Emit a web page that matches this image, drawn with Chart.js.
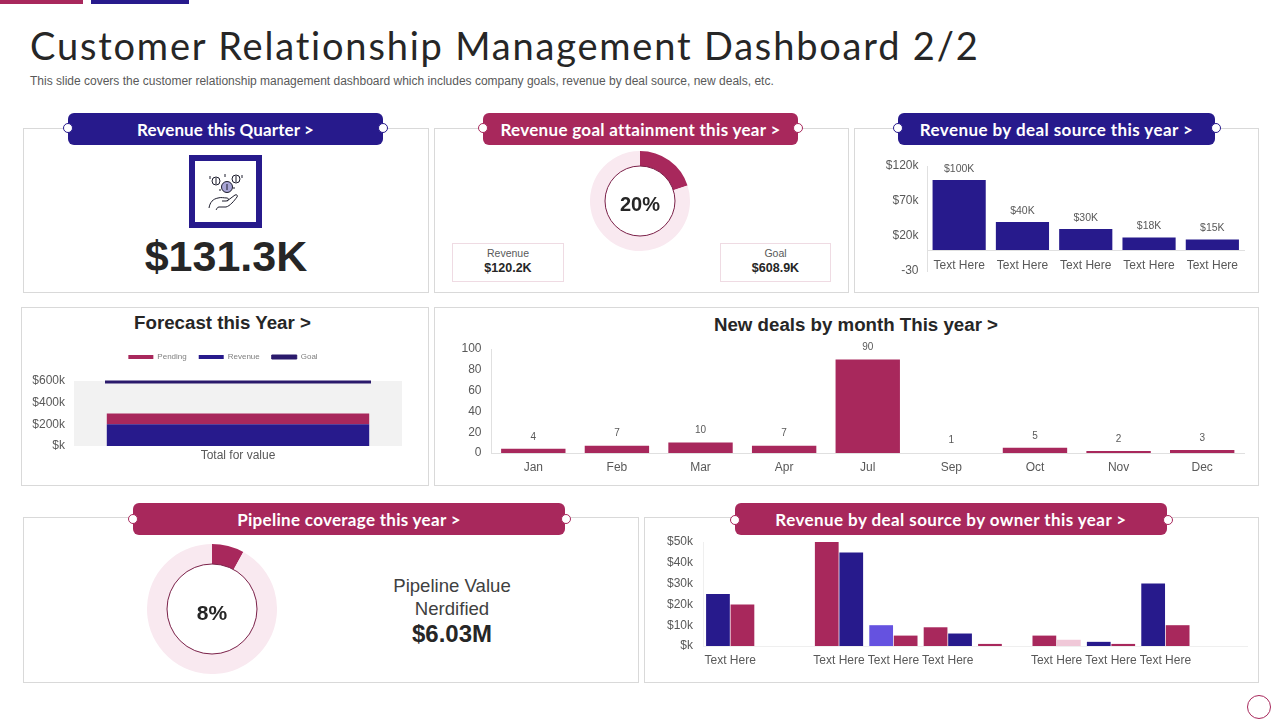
<!DOCTYPE html>
<html>
<head>
<meta charset="utf-8">
<title>Customer Relationship Management Dashboard 2/2</title>
<script src="https://cdn.jsdelivr.net/npm/chart.js@4/dist/chart.umd.min.js"></script>
<style>
  html, body { margin: 0; padding: 0; background: #fff; }
  #page { position: relative; width: 1280px; height: 720px; overflow: hidden; font-family: "Liberation Sans", Arial, sans-serif; color: #262626; }
  #page > * { position: absolute; box-sizing: border-box; }
  .strip { top: 0; height: 4px; }
  h1 { margin: 0; left: 30px; top: 21px; font: 400 38px/48px Lato, sans-serif; letter-spacing: 1.81px; white-space: nowrap; }
  .sub { left: 30px; top: 74px; font-size: 12px; line-height: 15px; color: #595959; white-space: nowrap; }
  .panel { border: 1px solid #d9d9d9; }
  .head { height: 32px; border-radius: 6px; color: #fff; font: 700 17px/34px Lato, sans-serif; text-align: center; letter-spacing: .3px; white-space: nowrap; }
  .navy { background: #271a8c; }
  .crim { background: #a8285c; }
  .dot { width: 10px; height: 10px; border-radius: 50%; background: #fff; border: 1px solid #271a8c; }
  .dot.c { border-color: #a8285c; }
  .ctr { text-align: center; white-space: nowrap; }
  .box { border: 1px solid #efdbe3; text-align: center; }
  .box div { font-size: 10.5px; line-height: 13px; color: #595959; margin-top: 3px; }
  .box b { display: block; font-size: 12.5px; line-height: 16px; color: #262626; }
  canvas { display: block; }
</style>
</head>
<body>
<div id="page">
  <div class="strip" style="left:0;width:83px;background:#a8285c"></div>
  <div class="strip" style="left:91px;width:98px;background:#271a8c"></div>
  <h1>Customer Relationship Management Dashboard 2/2</h1>
  <div class="sub">This slide covers the customer relationship management dashboard which includes company goals, revenue by deal source, new deals, etc.</div>

  <div class="panel" style="left:23px;top:128px;width:406px;height:165px"></div>
  <div class="panel" style="left:434px;top:128px;width:415px;height:165px"></div>
  <div class="panel" style="left:854px;top:128px;width:405px;height:165px"></div>
  <div class="panel" style="left:21px;top:307px;width:408px;height:179px"></div>
  <div class="panel" style="left:434px;top:307px;width:825px;height:179px"></div>
  <div class="panel" style="left:23px;top:517px;width:616px;height:166px"></div>
  <div class="panel" style="left:644px;top:517px;width:615px;height:166px"></div>

  <div class="head navy" style="left:68px;top:113px;width:315px;letter-spacing:.1px">Revenue this Quarter &gt;</div>
  <div class="dot" style="left:63px;top:123px"></div><div class="dot" style="left:378px;top:123px"></div>
  <div class="head crim" style="left:483px;top:113px;width:315px">Revenue goal attainment this year &gt;</div>
  <div class="dot c" style="left:478px;top:123px"></div><div class="dot c" style="left:793px;top:123px"></div>
  <div class="head navy" style="left:898px;top:113px;width:317px;letter-spacing:.42px">Revenue by deal source this year &gt;</div>
  <div class="dot" style="left:893px;top:123px"></div><div class="dot" style="left:1211px;top:123px"></div>
  <div class="head crim" style="left:133px;top:503px;width:432px">Pipeline coverage this year &gt;</div>
  <div class="dot c" style="left:128px;top:514px"></div><div class="dot c" style="left:561px;top:514px"></div>
  <div class="head crim" style="left:735px;top:503px;width:432px;letter-spacing:.42px">Revenue by deal source by owner this year &gt;</div>
  <div class="dot c" style="left:730px;top:515px"></div><div class="dot c" style="left:1163px;top:515px"></div>

  <svg style="left:189px;top:155px" width="73" height="73" viewBox="0 0 73 73">
    <rect x="3" y="3" width="67" height="67" fill="#fff" stroke="#271a8c" stroke-width="6"/>
    <g fill="none" stroke="#1c1c2c" stroke-width="1">
      <circle cx="27" cy="26" r="4"/><circle cx="47" cy="24" r="4"/>
      <circle cx="38" cy="32" r="5.5" fill="#a9a6d6"/>
      <path d="M27 23v6M47 21v6M38 29v6M21 21v3M53 20v3M36 19v3M31 34v2M45 32v2"/>
      <path d="M20 53c1-6 4-9 9-10 3-1 6 0 9 0 2 0 2 3-1 3h-4m5 0 8-6c2-1 3 1 2 2-3 4-7 9-11 10h-7c-2 0-2 2-3 3"/>
    </g>
  </svg>
  <div class="ctr" style="left:76px;top:230px;width:300px;font:700 43px/52px 'Liberation Sans',sans-serif">$131.3K</div>

  <canvas id="goalRing" width="100" height="100" style="left:590px;top:151px"></canvas>
  <div class="ctr" style="left:590px;top:191px;width:100px;font-size:20px;line-height:26px;font-weight:700">20%</div>
  <div class="box" style="left:452px;top:243px;width:112px;height:39px"><div>Revenue</div><b>$120.2K</b></div>
  <div class="box" style="left:720px;top:243px;width:111px;height:39px"><div>Goal</div><b>$608.9K</b></div>

  <canvas id="sourceChart" width="400" height="135" style="left:856px;top:150px"></canvas>

  <div class="ctr" style="left:21px;top:311px;width:403px;font-size:18.7px;line-height:24px;font-weight:700">Forecast this Year &gt;</div>
  <canvas id="forecastChart" width="412" height="125" style="left:16px;top:340px"></canvas>

  <div class="ctr" style="left:434px;top:313px;width:844px;font-size:18.7px;line-height:24px;font-weight:700">New deals by month This year &gt;</div>
  <canvas id="dealsChart" width="810" height="140" style="left:440px;top:340px"></canvas>

  <canvas id="pipelineRing" width="130" height="130" style="left:147px;top:544px"></canvas>
  <div class="ctr" style="left:152px;top:599px;width:120px;font-size:21px;line-height:27px;font-weight:700">8%</div>
  <div class="ctr" style="left:332px;top:574px;width:240px;font-size:18.6px;line-height:23px;color:#404040">Pipeline Value<br>Nerdified</div>
  <div class="ctr" style="left:332px;top:619px;width:240px;font-size:24px;line-height:30px;font-weight:700">$6.03M</div>

  <canvas id="ownerChart" width="600" height="140" style="left:650px;top:530px"></canvas>

  <div style="left:1247px;top:695px;width:24px;height:24px;border:1px solid #a8285c;border-radius:50%"></div>
</div>

<script>
const NAVY = "#271a8c";
const CRIMSON = "#a8285c";
const LILAC = "#6552e0";
const PINK = "#f0c8d8";
const BLUSH = "#f9e9f0";
const GREY = "#595959";
const AXIS_LINE = "#e0e0e0";

// revenue goal + pipeline rings
const goalShare = [20, 80];
const pipelineShare = [8, 92];

// revenue by deal source
const sourceLabels = ["Text Here", "Text Here", "Text Here", "Text Here", "Text Here"];
const sourceValues = [100, 40, 30, 18, 15];

// forecast
const forecastLabels = ["Total for value"];
const forecastPending = [100];
const forecastRevenue = [200];
const forecastGoal = [590];

// new deals
const dealMonths = ["Jan", "Feb", "Mar", "Apr", "Jul", "Sep", "Oct", "Nov", "Dec"];
const dealCounts = [4, 7, 10, 7, 90, 1, 5, 2, 3];
// the Sep bar does not show in the original, only its label does
const dealColors = [CRIMSON, CRIMSON, CRIMSON, CRIMSON, CRIMSON, "transparent", CRIMSON, CRIMSON, CRIMSON];

// revenue by deal source by owner
const ownerLabels = ["Text Here", "", "Text Here", "Text Here", "Text Here", "", "Text Here", "Text Here", "Text Here", ""];
const ownerFirst = [25, null, 50, 10, 9, 1, 5, 2, 30, null];
const ownerSecond = [20, null, 45, 5, 6, null, 3, 1, 10, null];
const ownerFirstColors = [NAVY, NAVY, CRIMSON, LILAC, CRIMSON, CRIMSON, CRIMSON, NAVY, NAVY, NAVY];
const ownerSecondColors = [CRIMSON, CRIMSON, NAVY, CRIMSON, NAVY, CRIMSON, PINK, CRIMSON, CRIMSON, CRIMSON];

Chart.defaults.font.family = '"Liberation Sans", Arial, sans-serif';
Chart.defaults.color = GREY;
Chart.defaults.animation = false;
Chart.defaults.responsive = false;
Chart.defaults.plugins.tooltip.enabled = false;
Chart.defaults.plugins.legend.display = false;

const noGrid = { display: false, drawTicks: false };

// value text above each bar
const barValues = {
  id: "barValues",
  afterDatasetsDraw(chart, args, opts) {
    if (!opts.format) return;
    const ctx = chart.ctx;
    ctx.save();
    ctx.font = `${opts.size}px "Liberation Sans", Arial, sans-serif`;
    ctx.fillStyle = GREY;
    ctx.textAlign = "center";
    ctx.textBaseline = "middle";
    chart.getDatasetMeta(0).data.forEach((bar, i) => {
      ctx.fillText(opts.format(chart.data.datasets[0].data[i]), bar.x, bar.y - opts.gap);
    });
    ctx.restore();
  },
};

// thin circle around the hole of a ring
const ringEdge = {
  id: "ringEdge",
  afterDraw(chart) {
    const arc = chart.getDatasetMeta(0).data[0];
    if (!arc || chart.config.type !== "doughnut") return;
    const ctx = chart.ctx;
    ctx.save();
    ctx.strokeStyle = "#7a2048";
    ctx.lineWidth = 1;
    ctx.beginPath();
    ctx.arc(arc.x, arc.y, arc.innerRadius, 0, Math.PI * 2);
    ctx.stroke();
    ctx.restore();
  },
};

const plotShade = {
  id: "plotShade",
  beforeDatasetsDraw(chart, args, opts) {
    if (!opts.color) return;
    const a = chart.chartArea;
    chart.ctx.fillStyle = opts.color;
    chart.ctx.fillRect(a.left, a.top, a.right - a.left, a.bottom - a.top);
  },
};

Chart.register(barValues, ringEdge, plotShade);

function ring(id, values, cutout) {
  return new Chart(document.getElementById(id), {
    type: "doughnut",
    data: { datasets: [{ data: values, backgroundColor: [CRIMSON, BLUSH], borderWidth: 0 }] },
    options: { cutout },
  });
}

// pins an axis to a fixed thickness so the plot lands where it should
function pinY(width) {
  return (s) => { s.width = width; s.paddingTop = 0; s.paddingBottom = 0; };
}
function pinX(height) {
  return (s) => { s.height = height; s.paddingLeft = 0; s.paddingRight = 0; };
}

ring("goalRing", goalShare, 35);
ring("pipelineRing", pipelineShare, 45);

new Chart(document.getElementById("sourceChart"), {
  type: "bar",
  data: {
    labels: sourceLabels,
    datasets: [{ data: sourceValues, backgroundColor: NAVY, barPercentage: 0.84, categoryPercentage: 1 }],
  },
  options: {
    layout: { padding: { top: 16, right: 12, bottom: 14 } },
    plugins: { barValues: { format: (v) => `$${v}K`, size: 10.5, gap: 11 } },
    scales: {
      x: {
        position: { y: 0 },
        grid: noGrid,
        border: { color: AXIS_LINE },
        ticks: { padding: 8, maxRotation: 0, autoSkip: false, font: { size: 12 } },
        afterFit: pinX(24),
      },
      y: {
        min: -30, max: 120,
        grid: noGrid,
        border: { color: AXIS_LINE },
        ticks: { stepSize: 50, padding: 9, font: { size: 12 }, callback: (v) => (v < 0 ? v : `$${v}k`) },
        afterFit: pinY(71.5),
      },
    },
  },
});

new Chart(document.getElementById("forecastChart"), {
  data: {
    labels: forecastLabels,
    datasets: [
      { type: "bar", label: "Revenue", data: forecastRevenue, backgroundColor: NAVY, barPercentage: 0.8, categoryPercentage: 1 },
      { type: "bar", label: "Pending", data: forecastPending, backgroundColor: CRIMSON, barPercentage: 0.8, categoryPercentage: 1 },
      {
        type: "line", label: "Goal", data: forecastGoal, showLine: false, clip: false,
        borderColor: "#2a1a6c", backgroundColor: "#2a1a6c", borderWidth: 1,
        pointStyle: "line", pointRadius: 133, pointBorderWidth: 3, pointBorderColor: "#2a1a6c",
      },
    ],
  },
  plugins: [{
    id: "legendGap",
    beforeInit(chart) {
      const fit = chart.legend.fit;
      chart.legend.fit = function () { fit.call(this); this.height = 41; };
    },
    // legend sits centred on the panel title, not on the plot
    afterLayout(chart) {
      chart.legend.left += 14;
      chart.legend.right += 14;
      chart.legend.top += 1;
    },
  }],
  options: {
    layout: { autoPadding: false, padding: { right: 26 } },
    plugins: {
      plotShade: { color: "#f2f2f2" },
      legend: {
        display: true,
        position: "top",
        labels: {
          boxWidth: 25, boxHeight: 4, padding: 12, font: { size: 8 }, color: "#7f7f7f",
          sort: (a, b) => [1, 0, 2][a.datasetIndex] - [1, 0, 2][b.datasetIndex],
        },
      },
    },
    scales: {
      x: {
        stacked: true,
        grid: noGrid,
        border: { display: false },
        ticks: { padding: 2, font: { size: 12 } },
        afterFit: pinX(19),
      },
      y: {
        stacked: true, min: 0, max: 600,
        grid: noGrid,
        border: { display: false },
        ticks: { stepSize: 200, padding: 9, font: { size: 12 }, callback: (v) => `$${v || ""}k` },
        afterFit: pinY(58),
      },
    },
  },
});

new Chart(document.getElementById("dealsChart"), {
  type: "bar",
  data: {
    labels: dealMonths,
    datasets: [{ data: dealCounts, backgroundColor: dealColors, barPercentage: 0.77, categoryPercentage: 1 }],
  },
  options: {
    layout: { padding: { top: 9, right: 6 } },
    plugins: { barValues: { format: (v) => v, size: 10, gap: 12 } },
    scales: {
      x: {
        grid: noGrid,
        border: { color: AXIS_LINE },
        ticks: { padding: 7, font: { size: 12 } },
        afterFit: pinX(27),
      },
      y: {
        min: 0, max: 100,
        grid: noGrid,
        border: { color: AXIS_LINE },
        ticks: { stepSize: 20, padding: 10, font: { size: 12 } },
        afterFit: pinY(51.5),
      },
    },
  },
});

new Chart(document.getElementById("ownerChart"), {
  type: "bar",
  data: {
    labels: ownerLabels,
    datasets: [
      { data: ownerFirst, backgroundColor: ownerFirstColors, barPercentage: 0.97, categoryPercentage: 0.9 },
      { data: ownerSecond, backgroundColor: ownerSecondColors, barPercentage: 0.97, categoryPercentage: 0.9 },
    ],
  },
  options: {
    layout: { padding: { top: 12, right: 3 } },
    scales: {
      x: {
        grid: noGrid,
        border: { color: "#efefef" },
        ticks: { padding: 7, maxRotation: 0, autoSkip: false, font: { size: 12 } },
        afterFit: pinX(24),
      },
      y: {
        min: 0, max: 50,
        grid: noGrid,
        border: { color: "#efefef" },
        ticks: { stepSize: 10, padding: 10, font: { size: 12 }, callback: (v) => `$${v || ""}k` },
        afterFit: pinY(53),
      },
    },
  },
});
</script>
</body>
</html>
